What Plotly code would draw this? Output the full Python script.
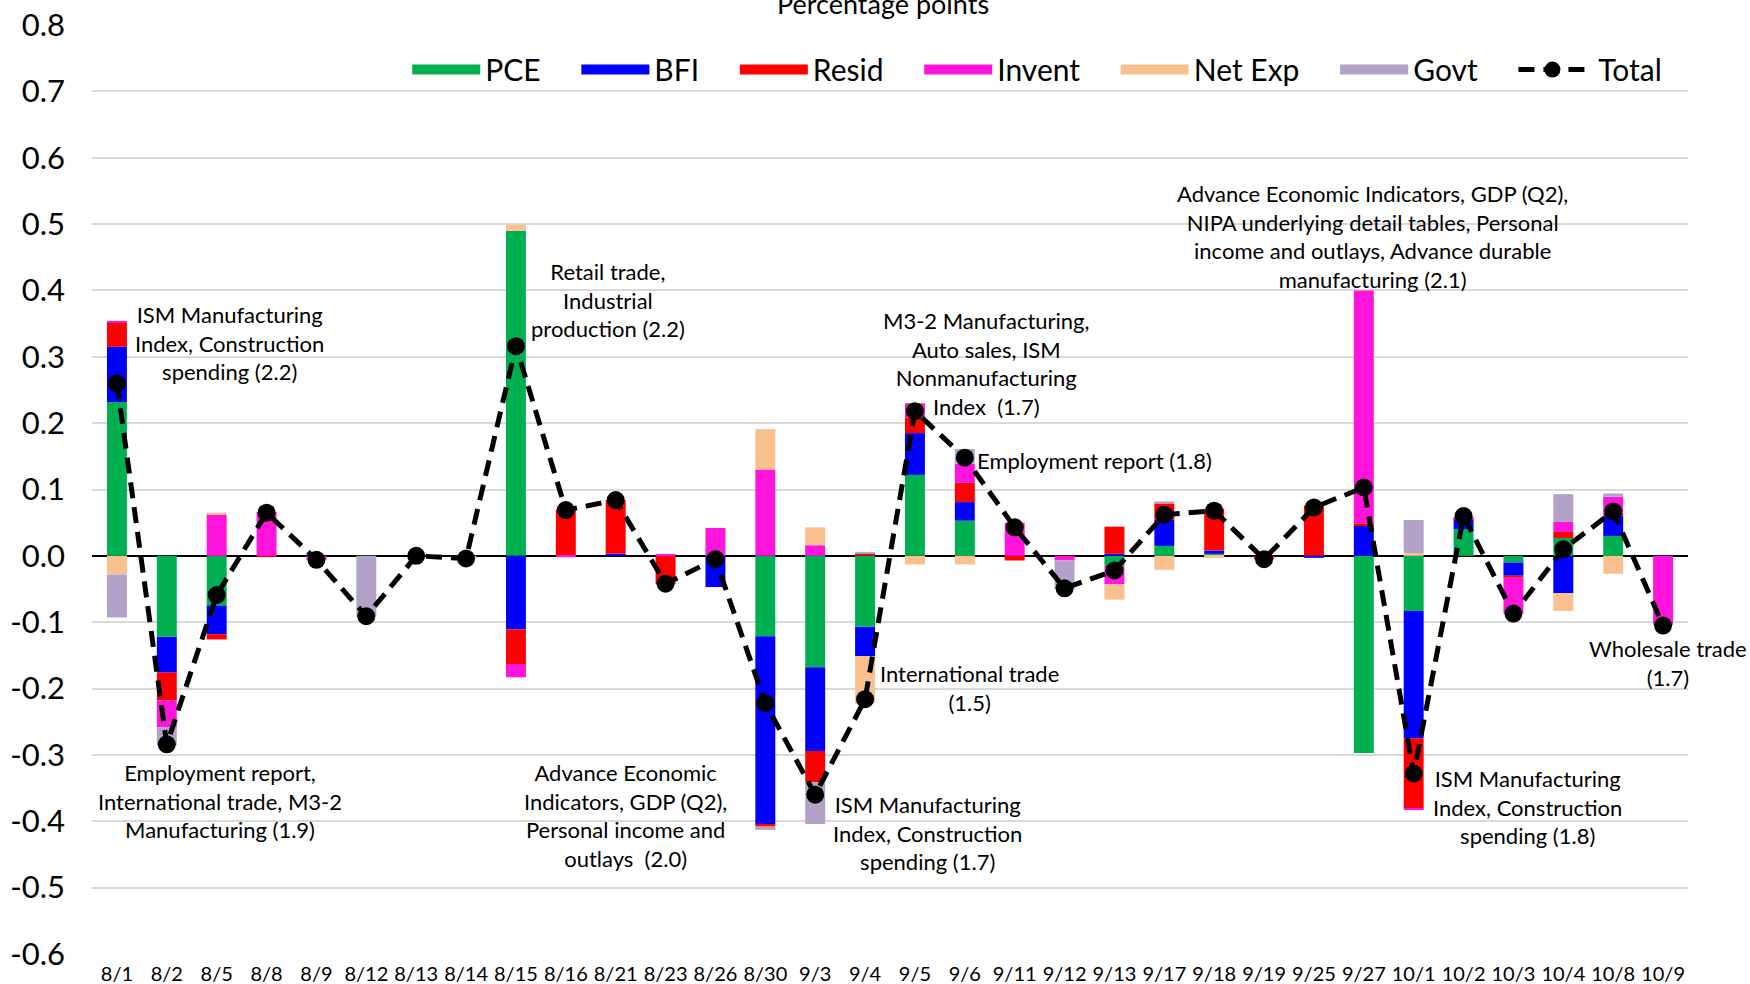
import plotly.graph_objects as go

# Release dates (categorical x axis)
dates = ["8/1", "8/2", "8/5", "8/8", "8/9", "8/12", "8/13", "8/14", "8/15", "8/16",
         "8/21", "8/23", "8/26", "8/30", "9/3", "9/4", "9/5", "9/6", "9/11", "9/12",
         "9/13", "9/17", "9/18", "9/19", "9/25", "9/27", "10/1", "10/2", "10/3", "10/4",
         "10/8", "10/9"]

# Contributions by component (percentage points)
pce = [0.232, -0.122, -0.075, 0.0, 0.0, 0.0, 0.0, 0.0, 0.490, 0.0,
       0.0, 0.0, 0.0, -0.121, -0.168, -0.107, 0.122, 0.053, 0.0, 0.0,
       -0.015, 0.015, 0.003, 0.0, 0.0, -0.297, -0.083, 0.040, -0.010, 0.027,
       0.030, 0.0]
bfi = [0.083, -0.054, -0.043, 0.0, 0.0, 0.0, 0.0, 0.0, -0.111, 0.0,
       0.003, 0.0, -0.047, -0.284, -0.126, -0.044, 0.063, 0.028, 0.0, 0.0,
       0.003, 0.039, 0.005, 0.0, -0.003, 0.046, -0.192, 0.015, -0.020, -0.056,
       0.030, 0.0]
resid = [0.037, -0.042, -0.008, -0.001, 0.0, 0.0, 0.0, 0.0, -0.052, 0.070,
         0.081, -0.043, 0.0, -0.003, -0.047, 0.004, 0.023, 0.029, -0.007, 0.0,
         0.041, 0.025, 0.063, -0.005, 0.076, 0.003, -0.105, 0.002, -0.003, 0.009,
         0.005, 0.0]
invent = [0.002, -0.040, 0.063, 0.066, -0.006, 0.0, 0.0, 0.0, -0.020, -0.002,
          0.0, 0.002, 0.042, 0.130, 0.016, 0.0, 0.022, 0.029, 0.050, -0.007,
          -0.028, 0.0, 0.0, 0.0, 0.0, 0.351, -0.003, 0.002, -0.054, 0.015,
          0.024, -0.104]
net_exp = [-0.028, 0.0, 0.002, 0.0, 0.0, 0.0, 0.0, -0.004, 0.009, 0.0,
           0.0, 0.0, 0.0, 0.061, 0.027, -0.071, -0.013, -0.013, 0.0, 0.0,
           -0.023, -0.021, -0.003, 0.0, 0.0, 0.0, 0.004, 0.0, 0.0, -0.027,
           -0.027, 0.0]
govt = [-0.065, -0.027, 0.0, 0.0, 0.0, -0.091, 0.0, 0.0, 0.0, 0.0,
        0.0, 0.0, 0.0, -0.005, -0.063, 0.002, 0.0, 0.022, 0.0, -0.043,
        0.0, 0.003, 0.0, 0.0, 0.0, 0.0, 0.050, 0.0, 0.0, 0.042,
        0.005, 0.0]
total = [0.260, -0.284, -0.059, 0.065, -0.006, -0.091, 0.0, -0.004, 0.316, 0.069,
         0.084, -0.042, -0.005, -0.222, -0.360, -0.216, 0.218, 0.148, 0.043, -0.049,
         -0.022, 0.062, 0.068, -0.005, 0.073, 0.103, -0.328, 0.060, -0.087, 0.010,
         0.067, -0.105]

series_names = ["PCE", "BFI", "Resid", "Invent", "Net Exp", "Govt"]
series_values = [pce, bfi, resid, invent, net_exp, govt]
series_colors = ["#00B050", "#0000FF", "#FF0000", "#FF14DC", "#FAC090", "#B3A2C7"]

# Y axis ticks (hyphen-minus labels)
y_tickvals = [-0.6, -0.5, -0.4, -0.3, -0.2, -0.1, 0.0, 0.1, 0.2, 0.3, 0.4, 0.5, 0.6, 0.7, 0.8]
y_ticktext = ["-0.6", "-0.5", "-0.4", "-0.3", "-0.2", "-0.1", "0.0", "0.1", "0.2", "0.3",
              "0.4", "0.5", "0.6", "0.7", "0.8"]

# Release annotations: (text, x position in category units, y value)
notes = [
    ("ISM Manufacturing<br>Index, Construction<br>spending (2.2)", 2.25, 0.321),
    ("Employment report,<br>International trade, M3-2<br>Manufacturing (1.9)", 2.07, -0.369),
    ("Retail trade,<br>Industrial<br>production (2.2)", 9.85, 0.386),
    ("Advance Economic<br>Indicators, GDP (Q2),<br>Personal income and<br>outlays  (2.0)", 10.19, -0.392),
    ("M3-2 Manufacturing,<br>Auto sales, ISM<br>Nonmanufacturing<br>Index  (1.7)", 17.44, 0.290),
    ("Employment report (1.8)", 19.6, 0.143),
    ("International trade<br>(1.5)", 17.1, -0.199),
    ("ISM Manufacturing<br>Index, Construction<br>spending (1.7)", 16.25, -0.418),
    ("Advance Economic Indicators, GDP (Q2),<br>NIPA underlying detail tables, Personal<br>"
     "income and outlays, Advance durable<br>manufacturing (2.1)", 25.17, 0.481),
    ("ISM Manufacturing<br>Index, Construction<br>spending (1.8)", 28.29, -0.378),
    ("Wholesale trade<br>(1.7)", 31.1, -0.161),
]

FONT = "Lato"
PAD = "\u00a0" * 4  # spacing between legend entries

fig = go.Figure()

# Legend entries with wide colour swatches
for name, color in zip(series_names, series_colors):
    fig.add_trace(go.Scatter(x=[None], y=[None], mode="lines", name=name + PAD,
                             line=dict(color=color, width=17), legendgroup=name))

# Stacked component bars
for name, vals, color in zip(series_names, series_values, series_colors):
    fig.add_trace(go.Bar(x=dates, y=vals, name=name, marker=dict(color=color, line=dict(width=0)),
                         showlegend=False, legendgroup=name))

# Total contribution line
fig.add_trace(go.Scatter(x=dates, y=total, name="\u00a0Total", mode="lines+markers",
                         line=dict(color="black", width=5, dash="16px,9px"),
                         marker=dict(color="black", size=18)))

for text, xv, yv in notes:
    fig.add_annotation(x=xv, y=yv, xref="x", yref="y", text=text, showarrow=False,
                       align="center", xanchor="center", yanchor="middle",
                       font=dict(family=FONT, size=22, color="black"))

fig.add_annotation(x=0.5, y=1, xref="paper", yref="paper", text="Percentage points",
                   showarrow=False, xanchor="center", yanchor="bottom", yshift=3, xshift=-7,
                   font=dict(family=FONT, size=27, color="black"))

fig.update_layout(
    width=1750, height=984,
    barmode="relative", bargap=0.6,
    paper_bgcolor="white", plot_bgcolor="white",
    margin=dict(l=92, r=62, t=25, b=30, autoexpand=False),
    font=dict(family=FONT, color="black"),
    showlegend=True,
    legend=dict(orientation="h", x=0.987, xanchor="right", y=0.952, yanchor="middle",
                font=dict(family=FONT, size=30, color="black"), itemwidth=68,
                bgcolor="rgba(0,0,0,0)", traceorder="normal"),
)
fig.update_xaxes(type="category", categoryorder="array", categoryarray=dates,
                 range=[-0.5, len(dates) - 0.5], tickangle=0,
                 showgrid=False, showline=False, ticks="", zeroline=False,
                 tickfont=dict(family=FONT, size=20, color="black"), ticklabelstandoff=6)
fig.update_yaxes(range=[-0.6, 0.8], tickvals=y_tickvals, ticktext=y_ticktext,
                 showgrid=True, gridcolor="#D9D9D9", gridwidth=2,
                 zeroline=True, zerolinecolor="black", zerolinewidth=1.5,
                 showline=False, ticks="",
                 tickfont=dict(family=FONT, size=31, color="black"), ticklabelstandoff=26)

fig.write_html("out.html")
